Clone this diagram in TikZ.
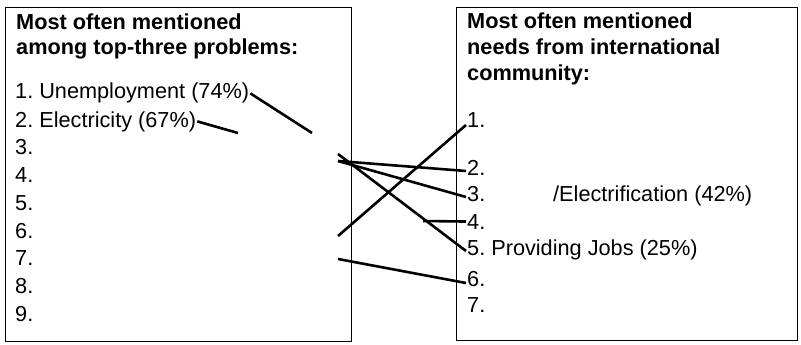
\documentclass[tikz,border=0pt]{standalone}
\usepackage{fontspec}
\setmainfont{Liberation Sans}
\frenchspacing

\begin{document}
\begin{tikzpicture}[x=1pt, y=-1pt, font=\fontsize{21.7}{26}\selectfont]
        \tikzstyle{frame} = [rectangle, draw, line width=1.4pt, anchor=north west, inner sep=0pt]
        \tikzstyle{head} = [anchor=base west, inner sep=0pt, font=\fontsize{21.7}{26}\selectfont\bfseries]
        \tikzstyle{item} = [anchor=base west, inner sep=1pt]
        \tikzstyle{link} = [line width=2.6pt]
        \useasboundingbox (0,0) rectangle (801,345);
        \node[frame, minimum width=346pt, minimum height=334pt] (probs) at (5,7) {};
        \node[frame, minimum width=341pt, minimum height=333pt] (needs) at (456,7) {};
        \node[head] (ph1) at (16,30) {Most often mentioned};
        \node[head] (ph2) at (16,55) {among top-three problems:};
        \node[item] (p1) at (14,99) {1. Unemployment (74\%)};
        \node[item] (p2) at (14,127) {2. Electricity (67\%)};
        \node[item] (p3) at (14,154) {3.};
        \node[item] (p4) at (14,182) {4.};
        \node[item] (p5) at (14,210) {5.};
        \node[item] (p6) at (14,238) {6.};
        \node[item] (p7) at (14,265) {7.};
        \node[item] (p8) at (14,293) {8.};
        \node[item] (p9) at (14,321) {9.};
        \node[head] (nh1) at (467,29) {Most often mentioned};
        \node[head] (nh2) at (467,55) {needs from international};
        \node[head] (nh3) at (467,81) {community:};
        \node[item] (n1) at (466,127) {1.};
        \node[item] (n2) at (466,175) {2.};
        \node[item] (n3) at (466,201) {3.};
        \node[item] (elec) at (552,201) {/Electrification (42\%)};
        \node[item] (n4) at (466,229) {4.};
        \node[item] (n5) at (466,255) {5. Providing Jobs (25\%)};
        \node[item] (n6) at (466,286) {6.};
        \node[item] (n7) at (466,312) {7.};
        \coordinate (p1cut) at (312,133);
        \coordinate (p2cut) at (238,133);
        \coordinate (hub) at (338,161);
        \coordinate (hub5) at (338,154);
        \coordinate (cut1) at (338,236);
        \coordinate (cut4) at (423,221);
        \coordinate (cut6) at (338,259);
        \draw[link] (p1.east) -- (p1cut);
        \draw[link] (p2.east) -- (p2cut);
        \draw[link] (cut1) -- ([yshift=2pt]n1.base west);
        \draw[link] (hub) -- ([yshift=4pt]n2.base west);
        \draw[link] (hub) -- ([yshift=4pt]n3.base west);
        \draw[link] (cut4) -- (n4.west);
        \draw[link] (hub5) -- ([yshift=4pt]n5.base west);
        \draw[link] (cut6) -- ([yshift=3pt]n6.base west);
\end{tikzpicture}
\end{document}
